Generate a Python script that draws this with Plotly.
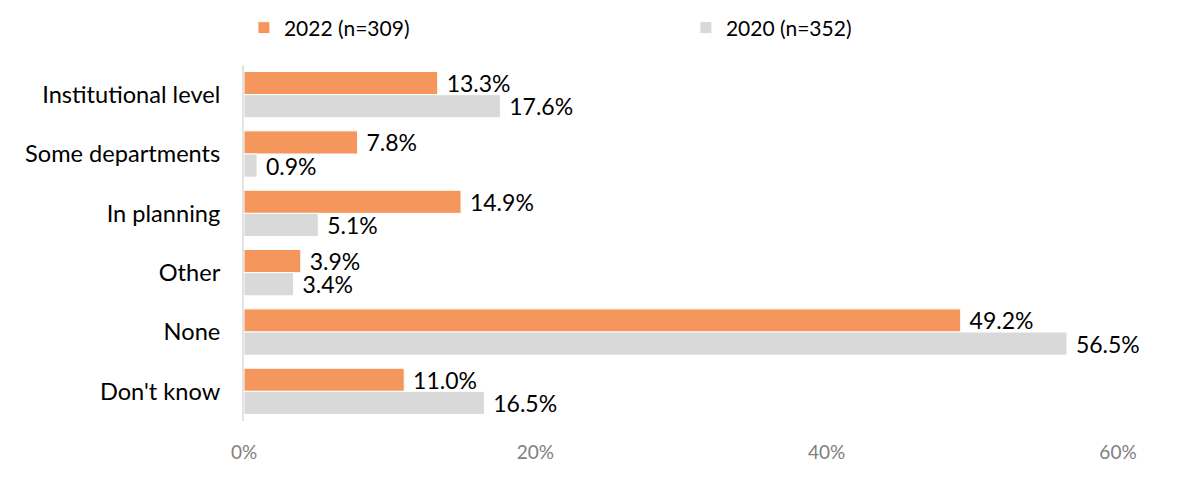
import plotly.graph_objects as go

categories = ["Institutional level", "Some departments", "In planning", "Other", "None", "Don't know"]
vals_2022 = [13.3, 7.8, 14.9, 3.9, 49.2, 11.0]
vals_2020 = [17.6, 0.9, 5.1, 3.4, 56.5, 16.5]
tick_vals = [0, 20, 40, 60]
tick_text = ["0%", "20%", "40%", "60%"]

ORANGE = "#F5975C"
GREY = "#D9D9D9"
FONT = "Lato"

fig = go.Figure()
for name, vals, colour in [("2022 (n=309)", vals_2022, ORANGE), ("2020 (n=352)", vals_2020, GREY)]:
    fig.add_trace(
        go.Bar(
            y=categories,
            x=vals,
            name=name,
            orientation="h",
            marker=dict(color=colour, line=dict(color="white", width=1)),
            # nbsp gives a bit more room between bar end and label
            text=[f"\u00a0{v:.1f}%" for v in vals],
            textposition="outside",
            constraintext="none",
            textfont=dict(family=FONT, size=23, color="#000000"),
            cliponaxis=False,
        )
    )

fig.update_layout(
    width=1200,
    height=486,
    barmode="group",
    bargap=0.22,
    bargroupgap=0,
    plot_bgcolor="white",
    paper_bgcolor="white",
    margin=dict(l=244, r=82, t=65, b=65, autoexpand=False),
    font=dict(family=FONT, size=20, color="#000000"),
    legend=dict(
        orientation="h",
        x=-0.0001,
        xanchor="left",
        y=1.104,
        yanchor="middle",
        entrywidth=397,
        entrywidthmode="pixels",
        font=dict(family=FONT, size=21, color="#000000"),
        traceorder="normal",
    ),
    showlegend=True,
)
fig.update_xaxes(
    range=[0, 60],
    tickvals=tick_vals,
    ticktext=tick_text,
    showgrid=False,
    zeroline=False,
    showline=False,
    automargin=False,
    tickfont=dict(family=FONT, size=19, color="#808080"),
    ticklabelstandoff=18,
)
fig.update_yaxes(
    autorange="reversed",
    showline=True,
    linecolor="#E3E3E3",
    linewidth=2,
    showgrid=False,
    ticks="",
    automargin=False,
    ticklabelstandoff=17,
    tickfont=dict(family=FONT, size=23.6, color="#000000"),
)

# drop the default 8px page margin so the figure sits at the window corner
fig.write_html(
    "out.html",
    config={"displayModeBar": False},
    post_script="document.body.style.margin='0px';",
)
